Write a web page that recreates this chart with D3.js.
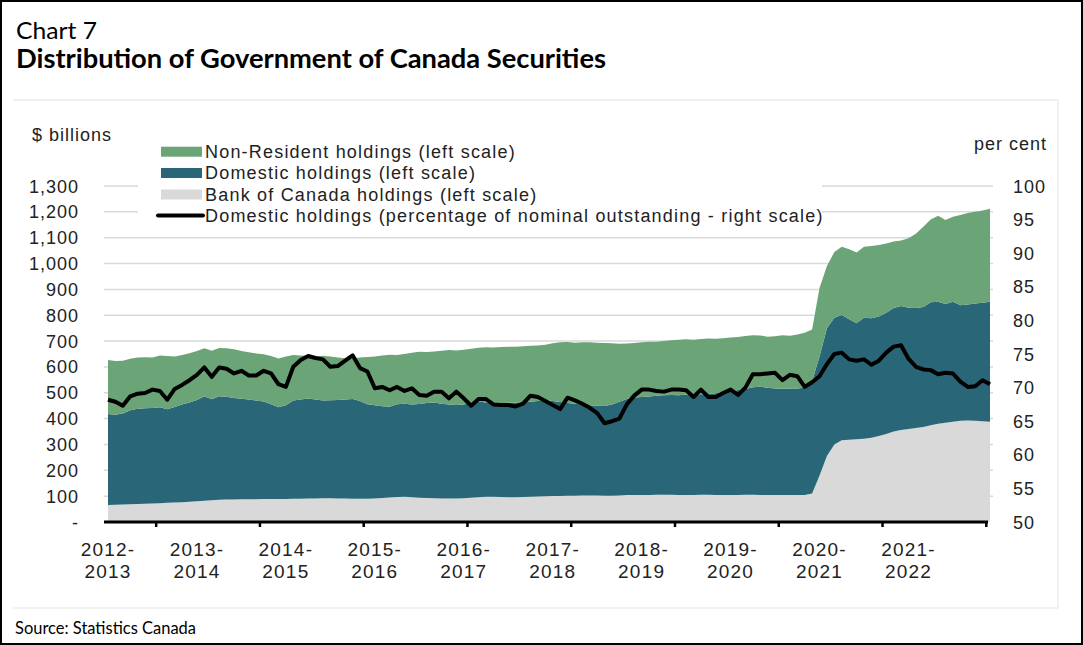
<!DOCTYPE html>
<html>
<head>
<meta charset="utf-8">
<script src="https://cdn.jsdelivr.net/npm/d3@7/dist/d3.min.js"></script>
<style>
  html, body { margin: 0; padding: 0; background: #fff; }
  svg { display: block; }
</style>
</head>
<body>
<svg id="chart" width="1083" height="645"></svg>
<script>
// Monthly observations, April 2012 onward ($ billions)
const bankOfCanada = [
  66,67,68,69,70,71,72,73,74,75,76,78,
  80,82,84,86,87,87,88,88,88,89,89,89,
  89,90,90,91,91,92,92,91,91,90,90,90,
  91,93,95,97,98,96,94,93,92,91,91,91,
  92,94,96,98,98,97,96,96,97,98,99,100,
  101,101,102,102,103,103,103,102,102,103,104,104,
  104,104,105,105,105,104,104,104,105,105,104,104,
  104,104,105,105,104,104,104,104,104,104,104,110,
  180,255,300,316,318,320,322,326,333,340,350,356,
  360,364,368,374,380,384,388,392,393,392,390,388
];
const domestic = [
  352,348,352,363,368,369,369,371,362,370,379,384,
  392,405,391,401,398,393,389,386,382,377,367,355,
  363,380,384,387,383,378,379,381,383,386,378,366,
  361,355,351,359,360,359,363,367,370,367,364,362,
  363,368,370,364,362,362,365,366,365,367,369,372,
  367,363,358,356,352,349,347,347,353,362,372,378,
  380,382,383,385,386,386,389,388,389,390,394,398,
  401,407,410,416,419,415,413,412,413,413,415,435,
  460,495,490,485,466,449,468,462,462,470,478,480,
  469,464,464,476,472,459,464,447,449,453,458,464
];
const nonResident = [
  209,208,204,200,198,197,195,200,206,195,191,191,
  190,185,188,186,187,188,185,183,182,183,186,189,
  188,176,170,164,166,173,169,164,160,157,168,182,
  188,196,201,190,192,200,202,198,198,205,210,211,
  211,208,208,214,215,218,217,216,218,217,215,214,
  224,231,236,236,240,243,244,244,237,225,215,211,
  211,211,209,210,212,215,214,213,214,215,211,209,
  209,205,205,202,199,198,202,207,204,208,213,200,
  265,240,255,264,271,274,275,280,277,268,257,253,
  269,287,310,320,333,325,329,349,354,355,357,360
];
// Domestic holdings as a share of nominal outstanding (per cent)
const domesticShare = [
  68.2,67.9,67.3,68.7,69.1,69.2,69.7,69.5,68.2,69.8,70.4,71.1,
  71.9,73.0,71.6,73.0,72.8,72.1,72.5,71.8,71.8,72.5,72.1,70.5,
  70.1,73.1,74.1,74.7,74.4,74.2,73.1,73.2,74.0,74.8,72.9,72.4,
  69.9,70.1,69.6,70.1,69.5,69.9,68.9,68.8,69.4,69.4,68.4,69.4,
  68.4,67.3,68.3,68.3,67.5,67.4,67.4,67.2,67.6,68.8,68.6,68.0,
  67.4,66.8,68.5,68.1,67.6,67.0,66.2,64.7,65.0,65.4,67.5,68.8,
  69.7,69.7,69.5,69.4,69.7,69.7,69.6,68.6,69.7,68.6,68.6,69.2,
  69.7,68.9,70.0,72.0,72.0,72.1,72.2,71.1,71.9,71.7,70.1,70.8,
  71.7,73.5,75.0,75.2,74.2,74.0,74.2,73.4,74.0,75.2,76.1,76.3,
  74.3,73.1,72.7,72.6,72.0,72.2,72.1,70.9,70.1,70.2,71.1,70.5
];
const fiscalYears = ["2012-2013","2013-2014","2014-2015","2015-2016","2016-2017",
                     "2017-2018","2018-2019","2019-2020","2020-2021","2021-2022"];
const leftTicks = [0,100,200,300,400,500,600,700,800,900,1000,1100,1200,1300];
const rightTicks = [50,55,60,65,70,75,80,85,90,95,100];
const seriesNames = ["Non-Resident holdings (left scale)",
                     "Domestic holdings (left scale)",
                     "Bank of Canada holdings (left scale)",
                     "Domestic holdings (percentage of nominal outstanding - right scale)"];

const colors = { nonResident: "#6ba476", domestic: "#286678", boc: "#d9d9d9", line: "#000000", grid: "#d9d9d9" };

const svg = d3.select("#chart");
const W = 1083, H = 645;
const n = bankOfCanada.length;

const rows = d3.range(n).map(i => ({
  i, boc: bankOfCanada[i], domestic: domestic[i], nonResident: nonResident[i], share: domesticShare[i]
}));

const x = d3.scaleLinear().domain([0, n - 1]).range([108, 990]);
const yL = d3.scaleLinear().domain([0, 1300]).range([522, 186]);
const yR = d3.scaleLinear().domain([50, 100]).range([522, 186]);

// frame
svg.append("rect").attr("x", 1).attr("y", 1).attr("width", W - 2).attr("height", H - 2)
  .attr("fill", "#fff").attr("stroke", "#000").attr("stroke-width", 2);
// chart-area outline
svg.append("path").attr("d", "M13,100H1058V608H13")
  .attr("fill", "none").attr("stroke", "#e3e3e3").attr("stroke-width", 1);

// titles
const titleFont = "Lato, 'Open Sans', sans-serif";
svg.append("text").attr("x", 16).attr("y", 39).text("Chart 7")
  .attr("font-family", titleFont).attr("font-size", 24).attr("fill", "#000")
  .attr("textLength", 81).attr("lengthAdjust", "spacingAndGlyphs");
svg.append("text").attr("x", 16).attr("y", 68).text("Distribution of Government of Canada Securities")
  .attr("font-family", titleFont).attr("font-weight", 700).attr("font-size", 26).attr("fill", "#000")
  .attr("textLength", 590).attr("lengthAdjust", "spacingAndGlyphs");
svg.append("text").attr("x", 15).attr("y", 634).text("Source: Statistics Canada")
  .attr("font-family", titleFont).attr("font-size", 17).attr("fill", "#000")
  .attr("textLength", 181).attr("lengthAdjust", "spacingAndGlyphs");

const axisFont = "'Liberation Sans', Arial, sans-serif";

// gridlines
svg.append("g").selectAll("line").data(leftTicks.filter(d => d > 0)).join("line")
  .attr("x1", 104).attr("x2", 993)
  .attr("y1", d => yL(d)).attr("y2", d => yL(d))
  .attr("stroke", colors.grid).attr("stroke-width", 1.5);

// stacked areas
const stack = d3.stack().keys(["boc", "domestic", "nonResident"]);
const layers = stack(rows);
const fillFor = { boc: colors.boc, domestic: colors.domestic, nonResident: colors.nonResident };
const area = d3.area().x(d => x(d.data.i)).y0(d => yL(d[0])).y1(d => yL(d[1]));
svg.append("g").selectAll("path").data(layers).join("path")
  .attr("d", area).attr("fill", d => fillFor[d.key]);

// share line on right scale
const line = d3.line().x(d => x(d.i)).y(d => yR(d.share));
svg.append("path").datum(rows).attr("d", line)
  .attr("fill", "none").attr("stroke", colors.line).attr("stroke-width", 4)
  .attr("stroke-linejoin", "round");

// category axis
const xAxis = svg.append("g");
xAxis.append("line").attr("x1", 104).attr("x2", 988).attr("y1", 522).attr("y2", 522)
  .attr("stroke", "#000").attr("stroke-width", 3);
xAxis.selectAll("line.tick").data(d3.range(6.5, n, 14)).join("line").attr("class", "tick")
  .attr("x1", d => x(d)).attr("x2", d => x(d)).attr("y1", 522).attr("y2", 527)
  .attr("stroke", "#000").attr("stroke-width", 2.5);
const xl = xAxis.selectAll("text.lab").data(fiscalYears).join("text").attr("class", "lab")
  .attr("font-family", axisFont).attr("font-size", 19).attr("letter-spacing", 1.2).attr("fill", "#222")
  .attr("text-anchor", "middle");
xl.append("tspan").attr("x", (d, k) => x(k * 12)).attr("y", 556).text(d => d.slice(0, 5));
xl.append("tspan").attr("x", (d, k) => x(k * 12)).attr("y", 578).text(d => d.slice(5));

// left value labels
svg.append("g").selectAll("text").data(leftTicks).join("text")
  .attr("x", 79).attr("y", d => yL(d) + 6.5)
  .attr("text-anchor", "end").attr("font-family", axisFont).attr("font-size", 18).attr("letter-spacing", 1)
  .attr("fill", "#222")
  .text(d => d === 0 ? "-" : d3.format(",")(d));
svg.append("text").attr("x", 32).attr("y", 141).text("$ billions")
  .attr("font-family", axisFont).attr("font-size", 18).attr("letter-spacing", 1).attr("fill", "#222");

// right value labels
svg.append("g").selectAll("text").data(rightTicks).join("text")
  .attr("x", 1013).attr("y", d => yR(d) + 6.5)
  .attr("font-family", axisFont).attr("font-size", 18).attr("letter-spacing", 1).attr("fill", "#222")
  .text(d => d);
svg.append("text").attr("x", 1047).attr("y", 150).attr("text-anchor", "end").text("per cent")
  .attr("font-family", axisFont).attr("font-size", 18).attr("letter-spacing", 1).attr("fill", "#222");

// legend
const legend = svg.append("g");
legend.append("rect").attr("x", 138).attr("y", 140).attr("width", 684).attr("height", 86).attr("fill", "#fff");
const legendFills = [colors.nonResident, colors.domestic, colors.boc];
const rowY = [151.7, 173, 194.5, 215.5];
seriesNames.forEach((name, k) => {
  if (k < 3) {
    legend.append("rect").attr("x", 161).attr("y", rowY[k] - 5).attr("width", 41).attr("height", 10)
      .attr("fill", legendFills[k]);
  } else {
    legend.append("line").attr("x1", 158).attr("x2", 203).attr("y1", rowY[k]).attr("y2", rowY[k])
      .attr("stroke", colors.line).attr("stroke-width", 4).attr("stroke-linecap", "round");
  }
  legend.append("text").attr("x", 205).attr("y", rowY[k] + 6.3).text(name)
    .attr("font-family", axisFont).attr("font-size", 18).attr("letter-spacing", 1.2).attr("fill", "#222");
});
</script>
</body>
</html>
